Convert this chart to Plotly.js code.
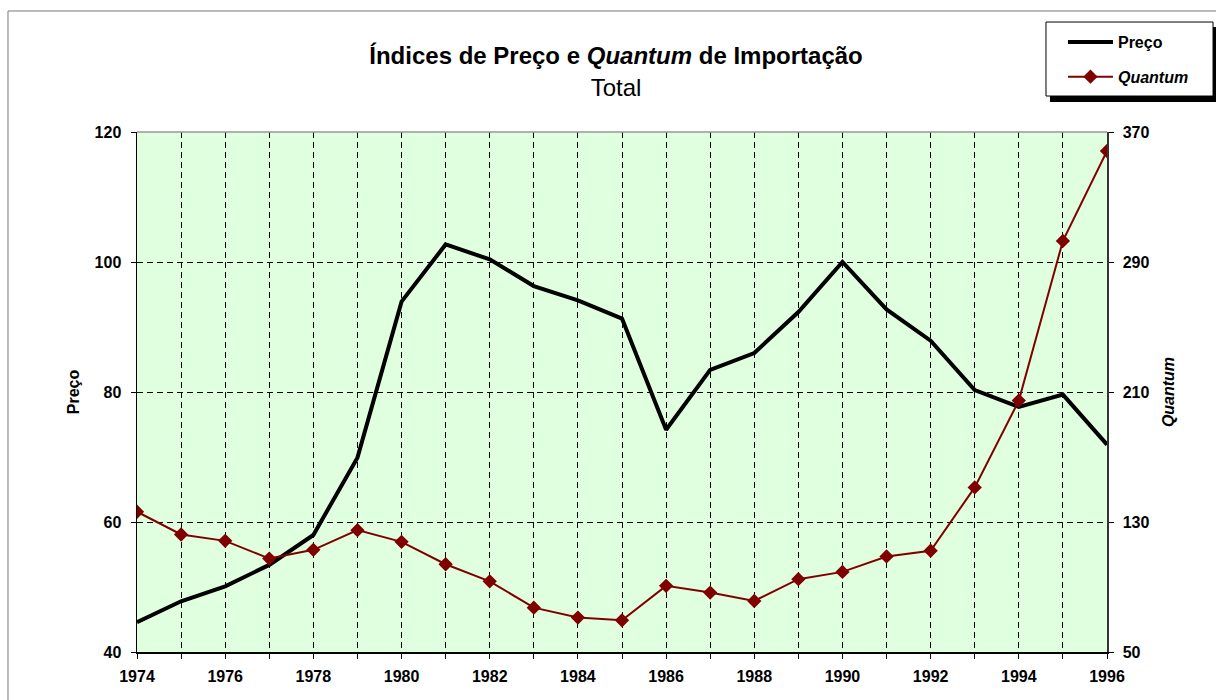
<!DOCTYPE html>
<html>
<head>
<meta charset="utf-8">
<script src="https://cdn.plot.ly/plotly-3.0.1.min.js"></script>
<style>
  html, body { margin: 0; padding: 0; background: #ffffff; }
  #chart { width: 1216px; height: 700px; }
</style>
</head>
<body>
<div id="chart"></div>
<script>
const years = [1974, 1975, 1976, 1977, 1978, 1979, 1980, 1981, 1982, 1983, 1984, 1985,
               1986, 1987, 1988, 1989, 1990, 1991, 1992, 1993, 1994, 1995, 1996];
const preco = [44.6, 47.8, 50.1, 53.4, 58.0, 69.9, 93.9, 102.7, 100.4, 96.3, 94.1, 91.3,
               74.2, 83.4, 86.0, 92.3, 100.0, 92.7, 87.9, 80.3, 77.7, 79.6, 71.9];
const quantum = [136.3, 122.3, 118.4, 107.5, 112.9, 125.0, 117.8, 104.0, 93.5, 77.3, 71.2, 69.5,
                 90.7, 86.6, 81.4, 94.8, 99.3, 108.8, 112.3, 151.3, 204.7, 303.0, 358.3];
const seriesNames = ['<b>Preço</b>', '<b><i>Quantum</i></b>'];
const titleText = '<b>Índices de Preço e <i>Quantum</i> de Importação</b><br>Total';
const yTitle = '<b>Preço</b>';
const y2Title = '<b><i>Quantum</i></b>';

const FONT = 'Liberation Sans, Arial, sans-serif';
const gridDash = '6px,4px';
const FS = 16;

const traces = [
  {
    x: years, y: preco, name: seriesNames[0], type: 'scatter', mode: 'lines',
    line: { color: '#000000', width: 4 }, legendgroup: 'a', yaxis: 'y'
  },
  {
    x: years, y: quantum, name: seriesNames[1], type: 'scatter', mode: 'lines+markers',
    line: { color: '#800000', width: 2 },
    marker: { symbol: 'diamond', size: 11, color: '#800000' },
    legendgroup: 'b', yaxis: 'y2'
  }
];

const layout = {
  width: 1216, height: 700,
  margin: { l: 137, r: 109, t: 132, b: 48 },
  paper_bgcolor: '#ffffff',
  plot_bgcolor: '#dfffdf',
  font: { family: FONT, color: '#000000', size: FS },
  title: {
    text: titleText,
    font: { family: FONT, size: 24, color: '#000000' },
    x: 0.5066, xanchor: 'center', xref: 'container',
    y: 0.908, yanchor: 'top', yref: 'container'
  },
  showlegend: true,
  legend: {
    x: 0.9546, xanchor: 'left', y: 1.2058, yanchor: 'top',
    bgcolor: 'rgba(0,0,0,0)', borderwidth: 0,
    font: { family: FONT, size: FS, color: '#000000' },
    traceorder: 'grouped', tracegroupgap: 11,
    itemwidth: 45
  },
  xaxis: {
    range: [1974, 1996], tickmode: 'linear', tick0: 1974, dtick: 2,
    ticks: 'outside', ticklen: 5, tickcolor: '#000000', tickwidth: 1,
    ticklabelstandoff: 4,
    tickfont: { family: FONT, size: FS, color: '#000000', weight: 'bold' },
    showline: true, linecolor: '#000000', linewidth: 1.5,
    showgrid: true, gridcolor: '#000000', gridwidth: 1, griddash: gridDash,
    minor: { dtick: 1, tick0: 1974, ticks: 'outside', ticklen: 5, tickcolor: '#000000',
             showgrid: true, gridcolor: '#000000', gridwidth: 1, griddash: gridDash },
    zeroline: false, fixedrange: true
  },
  yaxis: {
    range: [40, 120], tickmode: 'linear', tick0: 40, dtick: 20,
    ticks: 'outside', ticklen: 5, tickcolor: '#000000',
    ticklabelstandoff: 6,
    tickfont: { family: FONT, size: FS, color: '#000000', weight: 'bold' },
    showline: true, linecolor: '#000000', linewidth: 1.5,
    showgrid: true, gridcolor: '#000000', gridwidth: 1, griddash: gridDash,
    zeroline: false,
    title: { text: yTitle, font: { family: FONT, size: FS, color: '#000000' }, standoff: 11 },
    fixedrange: true
  },
  yaxis2: {
    range: [50, 370], tickmode: 'linear', tick0: 50, dtick: 80,
    overlaying: 'y', side: 'right',
    ticks: 'outside', ticklen: 5, tickcolor: '#000000',
    ticklabelstandoff: 6,
    tickfont: { family: FONT, size: FS, color: '#000000', weight: 'bold' },
    showline: true, linecolor: '#333333', linewidth: 1.5,
    showgrid: false, zeroline: false,
    title: { text: y2Title, font: { family: FONT, size: FS, color: '#000000' }, standoff: 14 },
    fixedrange: true
  },
  shapes: [
    // outer chart border
    { type: 'rect', xref: 'paper', yref: 'paper', x0: -0.133, x1: 2, y0: -1, y1: 1.2327,
      line: { color: '#777777', width: 1 }, fillcolor: 'rgba(0,0,0,0)', layer: 'below' },
    // top edge of plot area
    { type: 'line', xref: 'paper', yref: 'paper', x0: 0, x1: 1, y0: 1, y1: 1,
      line: { color: '#999999', width: 1.5 }, layer: 'above' },
    // legend shadow
    { type: 'rect', xref: 'paper', yref: 'paper', x0: 0.9412, x1: 1.1124, y0: 1.0577, y1: 1.0692,
      line: { width: 0 }, fillcolor: '#000000', layer: 'below' },
    { type: 'rect', xref: 'paper', yref: 'paper', x0: 1.1082, x1: 1.1124, y0: 1.0577, y1: 1.2019,
      line: { width: 0 }, fillcolor: '#000000', layer: 'below' },
    // legend box
    { type: 'rect', xref: 'paper', yref: 'paper', x0: 0.9371, x1: 1.1093, y0: 1.0692, y1: 1.2115,
      line: { color: '#000000', width: 1 }, fillcolor: '#ffffff', layer: 'below' }
  ]
};

Plotly.newPlot('chart', traces, layout, { staticPlot: true, displayModeBar: false });
</script>
</body>
</html>
